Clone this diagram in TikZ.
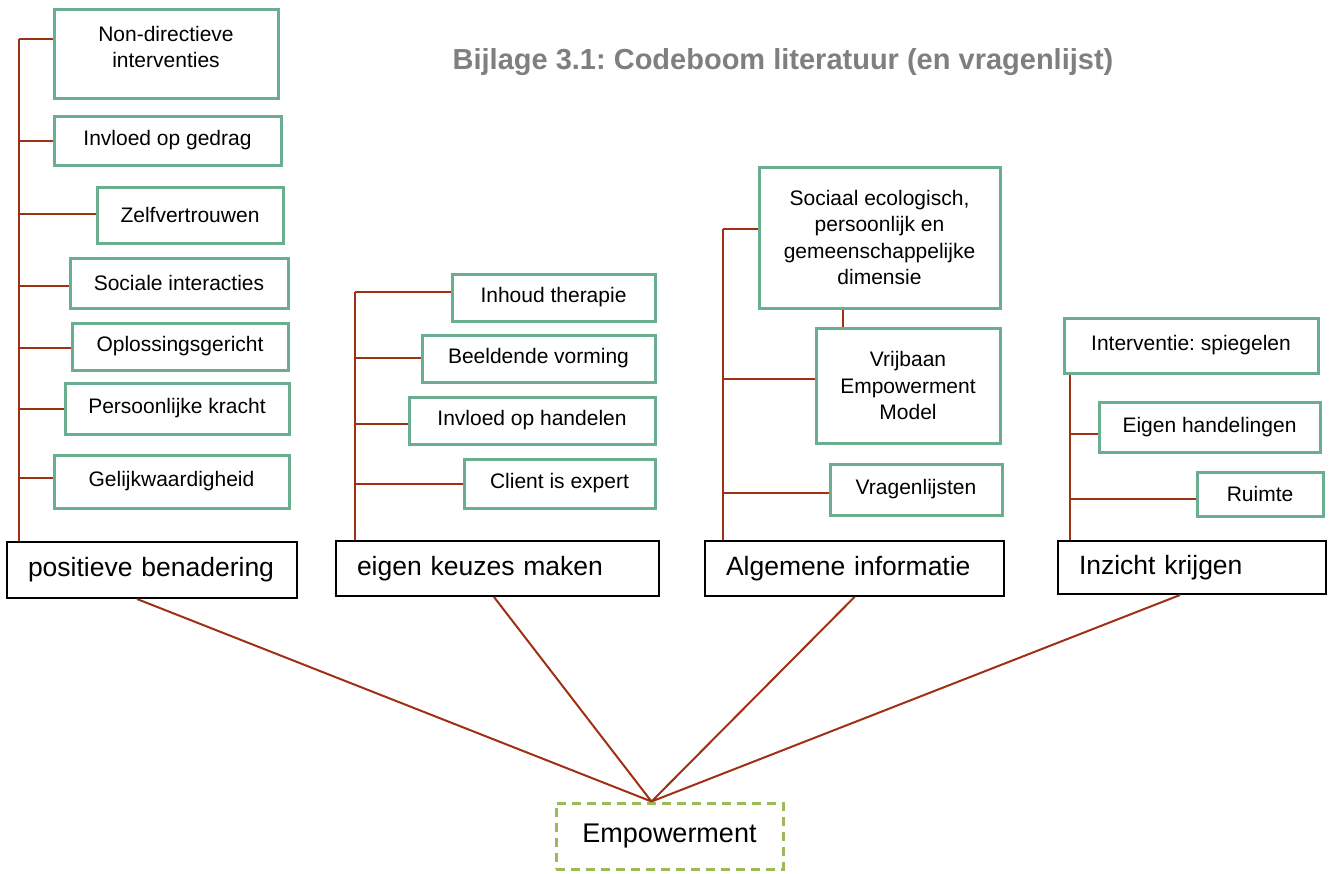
\documentclass[tikz,border=0pt]{standalone}
\usepackage{fontspec}
\setmainfont{Liberation Sans}
\frenchspacing

\definecolor{boxgreen}{RGB}{106,174,144}
\definecolor{linkred}{RGB}{160,48,20}
\definecolor{empgreen}{RGB}{155,187,89}
\definecolor{titlegray}{RGB}{127,127,127}

\tikzset{
    code/.style={draw=boxgreen, line width=3pt, fill=white, align=center,
        font=\fontsize{21}{26.5}\selectfont, inner sep=2pt},
    theme/.style={draw=black, line width=2pt, fill=white, align=left,
        font=\fontsize{26.5}{31}\selectfont, inner xsep=21pt, inner ysep=0pt},
    link/.style={draw=linkred, line width=2pt},
}

\begin{document}
\begin{tikzpicture}[x=1pt,y=-1pt]
        \useasboundingbox (0,0) rectangle (1330,873);
        \node[font=\bfseries\fontsize{29}{34}\selectfont, text=titlegray] (title) at (783,62)
            {Bijlage 3.1: Codeboom literatuur (en vragenlijst)}; %Title

        % positieve benadering
        \node[theme, minimum width=290, minimum height=56, text width=248] (posben) at (152,570) {positieve benadering};
        \node[code, minimum width=224, minimum height=89] (nondir) at (166,53.5) {Non-directieve\\interventies\\[-13pt]\mbox{}};
        \node[code, minimum width=227, minimum height=49] (gedrag) at (167.5,140.5) {Invloed op gedrag};
        \node[code, minimum width=186, minimum height=56] (zelf) at (190,215) {Zelfvertrouwen};
        \node[code, minimum width=218, minimum height=50] (sociaal) at (179,283) {Sociale interacties};
        \node[code, minimum width=216, minimum height=47] (oploss) at (180,346.5) {Oplossingsgericht};
        \node[code, minimum width=224, minimum height=51] (kracht) at (177,408.5) {Persoonlijke kracht};
        \node[code, minimum width=235, minimum height=53] (gelijk) at (171.5,481.5) {Gelijkwaardigheid};
        \coordinate (pbtop) at (19,39);
        \draw[link] (pbtop) -- (pbtop |- posben.north); %Trunk
        \foreach \n/\d in {nondir/14.5, gedrag/0, zelf/1, sociaal/-3, oploss/-1.5, kracht/-0.5, gelijk/3.5}
            \draw[link] ([yshift=\d pt]\n.west) -| (pbtop);

        % eigen keuzes maken
        \node[theme, minimum width=323, minimum height=55, text width=281] (keuzes) at (497.5,568.5) {eigen keuzes maken};
        \node[code, minimum width=203, minimum height=47] (inhoud) at (553.5,297.5) {Inhoud therapie};
        \node[code, minimum width=233, minimum height=47] (beeld) at (538.5,358.5) {Beeldende vorming};
        \node[code, minimum width=246, minimum height=47] (handelen) at (532,420.5) {Invloed op handelen};
        \node[code, minimum width=191, minimum height=49] (client) at (559.5,483.5) {Client is expert};
        \coordinate (ektop) at (355,292);
        \draw[link] (ektop) -- (ektop |- keuzes.north); %Trunk
        \foreach \n/\d in {inhoud/5.5, beeld/0.5, handelen/-3.5, client/-0.5}
            \draw[link] ([yshift=\d pt]\n.west) -| (ektop);

        % Algemene informatie
        \node[theme, minimum width=299, minimum height=55, text width=257] (alginf) at (854.5,568.5) {Algemene informatie};
        \node[code, minimum width=241, minimum height=141] (socdim) at (879.5,237.5)
            {Sociaal ecologisch,\\persoonlijk en\\gemeenschappelijke\\dimensie};
        \node[code, minimum width=184, minimum height=115] (vrijbaan) at (908,385.5) {Vrijbaan\\Empowerment\\Model};
        \node[code, minimum width=172, minimum height=51] (vragen) at (916,489.5) {Vragenlijsten};
        \coordinate (aitop) at (723,229);
        \draw[link] (aitop) -- (aitop |- alginf.north); %Trunk
        \foreach \n/\d in {socdim/8.5, vrijbaan/6.5, vragen/-3.5}
            \draw[link] ([yshift=\d pt]\n.west) -| (aitop);
        \draw[link] ([xshift=-36.5pt]socdim.south) -- ([xshift=-65pt]vrijbaan.north); %Between the two boxes

        % Inzicht krijgen
        \node[theme, minimum width=268, minimum height=53, text width=226] (inzicht) at (1192,567.5) {Inzicht krijgen};
        \node[code, minimum width=254, minimum height=55] (spiegel) at (1191,345.5) {Interventie: spiegelen};
        \node[code, minimum width=221, minimum height=50] (eigenh) at (1209.5,427) {Eigen handelingen};
        \node[code, minimum width=126, minimum height=44] (ruimte) at (1260,494) {Ruimte};
        \coordinate (iktop) at ([xshift=7pt]spiegel.south west);
        \draw[link] (iktop) -- (iktop |- inzicht.north); %Trunk
        \foreach \n/\d in {eigenh/-7, ruimte/-5}
            \draw[link] ([yshift=\d pt]\n.west) -| (iktop);

        % Empowerment
        \node[draw=empgreen, line width=3pt, dash pattern=on 9pt off 6pt, minimum width=227, minimum height=66,
            font=\fontsize{27}{32}\selectfont] (emp) at (669.5,836) {Empowerment};
        \coordinate (hub) at ([xshift=-18pt]emp.north);
        \draw[link]
            ([xshift=-15pt]posben.south) -- (hub)
            ([xshift=-3.5pt]keuzes.south) -- (hub)
            (alginf.south) -- (hub)
            ([xshift=-12pt]inzicht.south) -- (hub)
        ;
\end{tikzpicture}
\end{document}
